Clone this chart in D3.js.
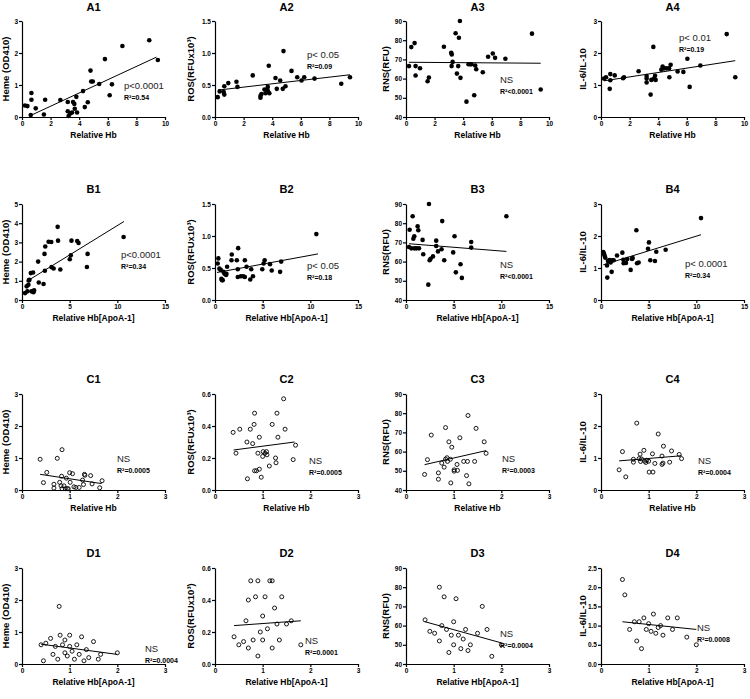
<!DOCTYPE html>
<html>
<head>
<meta charset="utf-8">
<script src="https://cdn.jsdelivr.net/npm/d3@7"></script>
<style>
  body { margin: 0; background: #fff; }
  svg { font-family: "Liberation Sans", Arial, sans-serif; }
  .axis path, .axis line { stroke: #000; stroke-width: 1.2; }
  .axis text { font-size: 6.5px; font-weight: bold; fill: #000; }
  .title { font-size: 11px; font-weight: bold; }
  .x-label { font-size: 8.5px; font-weight: bold; }
  .y-label { font-size: 9.5px; font-weight: bold; }
  .stat { font-size: 9.5px; fill: #222; }
  .r2 { font-size: 7px; font-weight: bold; }
</style>
</head>
<body>
<div id="chart"></div>
<script>
// Tick values
const xTicksA = [0, 2, 4, 6, 8, 10];
const xTicksB = [0, 5, 10, 15];
const xTicksCD = [0, 1, 2, 3];
const yTicksHeme3 = [0, 1, 2, 3];
const yTicksHeme5 = [0, 1, 2, 3, 4, 5];
const yTicksRos15 = [0, 0.5, 1.0, 1.5];
const yTicksRos06 = [0, 0.2, 0.4, 0.6];
const yTicksRns = [40, 50, 60, 70, 80, 90];
const yTicksIl3 = [0, 1, 2, 3];
const yTicksIl25 = [0, 0.5, 1.0, 1.5, 2.0, 2.5];

// Points [x, y]
const ptsA1 = [[0.21,0.36],[0.38,0.34],[0.66,0.75],[0.66,0.54],[0.61,0.06],[0.96,0.27],[1.53,0.08],[1.62,0.54],[2.68,0.53],[3.2,0.47],[3.2,0.18],[3.26,0.03],[3.38,0.11],[3.5,0.14],[3.57,0.47],[3.66,0.41],[3.69,0.26],[3.8,0.63],[3.85,0.14],[4.27,0.81],[4.39,0.31],[4.6,0.46],[4.79,1.45],[4.84,1.11],[4.95,1.11],[5.4,1.03],[5.8,1.81],[6.13,0.68],[6.29,1.02],[7.02,2.22],[8.9,2.4],[9.5,1.78]];
const ptsA2 = [[0.19,0.31],[0.33,0.40],[0.61,0.39],[0.65,0.35],[0.65,0.48],[0.93,0.53],[1.5,0.55],[1.57,0.47],[2.64,0.65],[3.18,0.33],[3.18,0.30],[3.25,0.36],[3.46,0.43],[3.53,0.37],[3.64,0.43],[3.69,0.47],[3.71,0.40],[3.76,0.80],[3.8,0.37],[4.23,0.61],[4.32,0.44],[4.56,0.57],[4.74,0.44],[4.79,1.03],[4.93,0.48],[5.35,0.72],[5.75,0.62],[6.05,0.57],[6.24,0.62],[6.96,0.60],[8.83,0.52],[9.44,0.62]];
const ptsA3 = [[0.21,66.5],[0.37,76.4],[0.6,78.5],[0.67,66.5],[0.67,61.6],[0.98,65.4],[1.51,58.6],[1.6,60.6],[2.65,76.6],[3.16,73.4],[3.2,72.6],[3.26,68.7],[3.19,66.5],[3.47,83.6],[3.56,62.6],[3.65,66.5],[3.7,81.3],[3.77,90],[3.81,60.4],[4.23,48],[4.37,67.5],[4.49,67.5],[4.58,67.5],[4.77,51.3],[4.84,66.8],[4.91,64.9],[5.37,63.3],[5.74,71.4],[6.07,73.1],[6.23,70.8],[6.95,70.3],[8.81,83.4],[9.42,54.3]];
const ptsA4 = [[0.21,1.2],[0.35,1.24],[0.65,1.34],[0.65,1.15],[0.61,0.88],[0.96,1.3],[1.54,1.21],[1.61,1.24],[2.63,1.43],[3.19,1.28],[3.19,1.2],[3.19,1.08],[3.47,0.70],[3.52,1.16],[3.66,2.19],[3.71,1.2],[3.78,1.29],[3.82,1.16],[4.22,1.48],[4.31,1.58],[4.41,1.52],[4.59,1.52],[4.76,1.52],[4.78,1.24],[4.87,1.63],[5.36,1.42],[5.76,1.41],[6.04,1.82],[6.2,0.94],[6.95,1.61],[8.79,2.59],[9.39,1.24]];
const ptsB1 = [[0.32,0.36],[0.49,0.71],[0.56,0.45],[0.67,0.79],[0.71,1.02],[0.78,1.05],[0.92,1.40],[0.99,0.45],[1.16,1.43],[1.2,0.41],[1.27,0.5],[1.69,2.0],[1.76,0.91],[2.26,0.83],[2.36,2.4],[2.44,2.79],[2.4,1.52],[2.79,3.03],[3.07,3.02],[3.1,1.71],[3.32,1.64],[3.74,3.81],[3.78,3.09],[4.02,1.59],[5.01,2.12],[5.12,2.33],[5.19,3.09],[5.79,3.07],[5.93,2.97],[6.88,2.4],[6.81,1.72],[10.66,3.28]];
const ptsB2 = [[0.28,0.57],[0.35,0.65],[0.46,0.49],[0.6,0.47],[0.67,0.33],[0.74,0.31],[0.81,0.31],[0.88,0.44],[0.99,0.41],[1.16,0.39],[1.2,0.41],[1.27,0.52],[1.76,0.71],[1.73,0.62],[2.29,0.62],[2.43,0.81],[2.39,0.48],[2.39,0.36],[2.71,0.37],[2.96,0.37],[3.13,0.62],[3.13,0.36],[3.31,0.52],[3.7,0.32],[3.8,0.48],[3.98,0.37],[4.96,0.48],[5.1,0.57],[5.21,0.62],[5.77,0.56],[5.95,0.46],[6.83,0.44],[6.94,0.60],[10.63,1.03]];
const ptsB3 = [[0.38,76.6],[0.31,67.6],[0.56,66.9],[0.7,83.6],[0.77,71.9],[0.87,73.2],[0.87,66.9],[1.08,66.9],[1.22,78.4],[1.29,76.3],[1.36,66.9],[1.74,71.3],[1.81,63.8],[2.41,90],[2.34,48],[2.48,60.7],[2.58,61.5],[2.83,62.7],[3.17,70.9],[3.17,68.1],[3.35,65.3],[3.73,66.4],[3.8,81.1],[4.01,60.7],[4.95,64.8],[5.09,73.2],[5.23,54.4],[5.72,58.6],[5.86,51.5],[6.84,70.2],[6.84,67.3],[10.53,83.6]];
const ptsB4 = [[0.24,1.5],[0.31,1.45],[0.38,1.38],[0.45,1.32],[0.63,1.08],[0.66,0.70],[0.73,1.22],[0.84,1.23],[0.91,1.25],[1.01,1.17],[1.12,0.88],[1.19,1.24],[1.33,1.24],[1.68,1.39],[2.24,1.48],[2.34,1.26],[2.38,1.15],[2.62,1.16],[2.76,1.28],[3.11,0.94],[3.25,1.28],[3.32,1.31],[3.71,2.18],[3.78,1.15],[3.95,1.17],[4.93,1.6],[5.03,1.8],[5.17,1.24],[5.66,1.22],[5.8,1.51],[6.78,1.57],[10.49,2.56]];
const ptsC1 = [[0.38,0.96],[0.45,0.23],[0.52,0.55],[0.67,0.18],[0.67,0.06],[0.74,0.99],[0.79,0.24],[0.82,0.13],[0.83,0.43],[0.84,1.26],[0.84,0.04],[0.88,0.13],[0.91,0.04],[0.93,0.37],[0.95,0.04],[0.97,0.04],[1.0,0.54],[1.01,0.24],[1.06,0.51],[1.09,0.10],[1.13,0.08],[1.2,0.08],[1.27,0.31],[1.29,0.17],[1.31,0.49],[1.32,0.46],[1.44,0.45],[1.47,0.19],[1.63,0.07],[1.68,0.29]];
const ptsC2 = [[0.38,0.36],[0.44,0.23],[0.52,0.38],[0.67,0.30],[0.68,0.07],[0.74,0.38],[0.79,0.29],[0.82,0.41],[0.83,0.48],[0.83,0.12],[0.87,0.12],[0.9,0.23],[0.93,0.33],[0.93,0.13],[0.97,0.08],[1.0,0.21],[1.01,0.24],[1.05,0.23],[1.08,0.24],[1.09,0.22],[1.14,0.15],[1.2,0.41],[1.27,0.2],[1.28,0.17],[1.3,0.48],[1.32,0.33],[1.44,0.57],[1.47,0.38],[1.64,0.19],[1.69,0.28]];
const ptsC3 = [[0.39,48.1],[0.45,55.8],[0.53,68.6],[0.68,48.9],[0.68,45.6],[0.75,54.0],[0.8,51.9],[0.83,72.5],[0.83,56.1],[0.86,56.8],[0.87,54.9],[0.9,65.1],[0.93,56.0],[0.94,43.7],[0.96,62.3],[1.01,49.8],[1.01,50.5],[1.07,53.3],[1.08,50.2],[1.13,67.2],[1.21,54.9],[1.27,47.5],[1.29,54.9],[1.3,78.8],[1.32,43.2],[1.44,54.9],[1.47,72.1],[1.64,65.1],[1.68,59.1]];
const ptsC4 = [[0.38,0.63],[0.45,1.2],[0.52,0.41],[0.68,0.87],[0.68,0.96],[0.75,2.09],[0.8,0.98],[0.82,1.12],[0.83,0.89],[0.85,0.97],[0.9,1.24],[0.92,0.9],[0.94,0.86],[0.96,0.93],[1.0,0.9],[1.01,0.56],[1.08,1.13],[1.09,0.56],[1.13,0.83],[1.2,1.75],[1.28,0.8],[1.28,1.06],[1.31,1.37],[1.3,0.84],[1.44,0.87],[1.48,1.22],[1.64,1.11],[1.69,0.98]];
const ptsD1 = [[0.4,0.6],[0.45,0.1],[0.5,0.65],[0.6,0.8],[0.65,0.3],[0.7,0.55],[0.75,0.15],[0.78,1.8],[0.8,0.9],[0.85,0.6],[0.9,0.35],[0.9,0.75],[0.95,0.25],[1.0,0.55],[1.0,0.9],[1.05,0.4],[1.1,0.15],[1.15,0.6],[1.2,0.3],[1.25,0.85],[1.3,0.1],[1.35,0.45],[1.4,0.2],[1.5,0.7],[1.6,0.15],[1.65,0.3],[2.0,0.35]];
const ptsD2 = [[0.4,0.17],[0.5,0.12],[0.6,0.14],[0.65,0.27],[0.7,0.4],[0.7,0.1],[0.75,0.52],[0.8,0.15],[0.85,0.42],[0.9,0.52],[0.9,0.05],[0.95,0.2],[1.0,0.3],[1.0,0.15],[1.05,0.42],[1.1,0.22],[1.15,0.52],[1.2,0.52],[1.2,0.1],[1.25,0.35],[1.3,0.25],[1.35,0.15],[1.4,0.42],[1.5,0.25],[1.6,0.27],[1.8,0.12]];
const ptsD3 = [[0.4,63],[0.5,57],[0.6,56],[0.7,80],[0.7,52],[0.75,60],[0.8,75],[0.85,58],[0.9,46],[0.95,55],[1.0,50],[1.0,62],[1.05,74],[1.1,55],[1.15,48],[1.2,53],[1.25,58],[1.3,47],[1.35,50],[1.5,56],[1.6,70],[1.7,58],[1.8,44],[2.0,50]];
const ptsD4 = [[0.45,2.2],[0.5,1.8],[0.6,0.9],[0.7,1.1],[0.75,0.6],[0.8,1.1],[0.85,0.4],[0.9,1.2],[0.95,0.9],[1.0,1.05],[1.05,0.85],[1.1,1.3],[1.15,0.8],[1.2,0.95],[1.25,1.0],[1.3,0.75],[1.4,1.2],[1.5,0.9],[1.6,1.2],[1.8,0.7],[2.0,0.5]];

// Regression line end points [x, y]
const fitA1 = [[0.52,0.03],[9.4,1.87]];
const fitA2 = [[0.2,0.42],[9.44,0.66]];
const fitA3 = [[0.2,68.5],[9.42,68.0]];
const fitA4 = [[0.21,1.13],[9.39,1.76]];
const fitB1 = [[0.49,0.97],[10.7,4.09]];
const fitB2 = [[0.21,0.43],[10.8,0.72]];
const fitB3 = [[0.31,69.3],[10.53,65.3]];
const fitB4 = [[0.24,1.1],[10.49,2.04]];
const fitC1 = [[0.38,0.49],[1.67,0.2]];
const fitC2 = [[0.39,0.25],[1.67,0.30]];
const fitC3 = [[0.39,53.2],[1.68,60.5]];
const fitC4 = [[0.38,0.91],[1.69,1.07]];
const fitD1 = [[0.4,0.62],[2.0,0.3]];
const fitD2 = [[0.4,0.24],[1.8,0.27]];
const fitD3 = [[0.4,62],[2.0,51]];
const fitD4 = [[0.45,1.1],[2.0,0.9]];

// Statistics labels
const statText = ["p<0.0001","p< 0.05","NS","p< 0.01","p<0.0001","p< 0.05","NS","p< 0.0001","NS","NS","NS","NS","NS","NS","NS","NS"];
const r2Text = ["R²=0.54","R²=0.09","R²<0.0001","R²=0.19","R²=0.34","R²=0.18","R²<0.0001","R²=0.34","R²=0.0005","R²=0.0005","R²=0.0003","R²=0.0004","R²=0.0004","R²=0.0001","R²=0.0004","R²=0.0008"];

// Layout
const W = 143, H = 96;
const colLeft = [22, 215, 406, 601];
const rowTop = [21, 204, 394, 568];
const yLabelOffset = [-16, -24, -20, -18];

const yLabels = ["Heme (OD410)", "ROS(RFUx10³)", "RNS(RFU)", "IL-6/IL-10"];
const xLabels = ["Relative Hb", "Relative Hb[ApoA-1]", "Relative Hb", "Relative Hb[ApoA-1]"];
const rowNames = ["A", "B", "C", "D"];

const f0 = d3.format("d"), f1 = d3.format(".1f");

const panels = [
  {r:0,c:0, pts:ptsA1, fit:fitA1, xt:xTicksA, yt:yTicksHeme3, yf:f0, ann:[102,68]},
  {r:0,c:1, pts:ptsA2, fit:fitA2, xt:xTicksA, yt:yTicksRos15, yf:f1, ann:[92,37]},
  {r:0,c:2, pts:ptsA3, fit:fitA3, xt:xTicksA, yt:yTicksRns, yf:f0, ann:[94,62]},
  {r:0,c:3, pts:ptsA4, fit:fitA4, xt:xTicksA, yt:yTicksIl3, yf:f0, ann:[78,20]},
  {r:1,c:0, pts:ptsB1, fit:fitB1, xt:xTicksB, yt:yTicksHeme5, yf:f0, ann:[99,54]},
  {r:1,c:1, pts:ptsB2, fit:fitB2, xt:xTicksB, yt:yTicksRos15, yf:f1, ann:[92,65]},
  {r:1,c:2, pts:ptsB3, fit:fitB3, xt:xTicksB, yt:yTicksRns, yf:f0, ann:[94,64]},
  {r:1,c:3, pts:ptsB4, fit:fitB4, xt:xTicksB, yt:yTicksIl3, yf:f0, ann:[84,63]},
  {r:2,c:0, pts:ptsC1, fit:fitC1, xt:xTicksCD, yt:yTicksHeme3, yf:f0, ann:[95,68]},
  {r:2,c:1, pts:ptsC2, fit:fitC2, xt:xTicksCD, yt:yTicksRos06, yf:f1, ann:[94,70]},
  {r:2,c:2, pts:ptsC3, fit:fitC3, xt:xTicksCD, yt:yTicksRns, yf:f0, ann:[96,68]},
  {r:2,c:3, pts:ptsC4, fit:fitC4, xt:xTicksCD, yt:yTicksIl3, yf:f0, ann:[97,70]},
  {r:3,c:0, pts:ptsD1, fit:fitD1, xt:xTicksCD, yt:yTicksHeme3, yf:f0, ann:[123,84]},
  {r:3,c:1, pts:ptsD2, fit:fitD2, xt:xTicksCD, yt:yTicksRos06, yf:f1, ann:[90,76]},
  {r:3,c:2, pts:ptsD3, fit:fitD3, xt:xTicksCD, yt:yTicksRns, yf:f0, ann:[94,69]},
  {r:3,c:3, pts:ptsD4, fit:fitD4, xt:xTicksCD, yt:yTicksIl25, yf:f1, ann:[96,63]}
];

const svg = d3.select("#chart")
  .append("svg")
  .attr("width", 750)
  .attr("height", 699);

panels.forEach((p, i) => {
  const g = svg.append("g")
    .attr("transform", `translate(${colLeft[p.c]}, ${rowTop[p.r]})`);

  let x = d3.scaleLinear()
    .domain(d3.extent(p.xt))
    .range([0, W]);
  let y = d3.scaleLinear()
    .domain(d3.extent(p.yt))
    .range([H, 0]);

  // axes
  g.append("g")
    .attr("class", "axis")
    .attr("transform", `translate(0, ${H})`)
    .call(d3.axisBottom(x).tickValues(p.xt).tickFormat(f0).tickSize(3).tickSizeOuter(0).tickPadding(1.5));
  g.append("g")
    .attr("class", "axis")
    .call(d3.axisLeft(y).tickValues(p.yt).tickFormat(p.yf).tickSize(3).tickSizeOuter(0).tickPadding(1));

  // regression line
  g.append("path")
    .datum(p.fit)
    .attr("fill", "none")
    .attr("stroke", "#000")
    .attr("stroke-width", 1)
    .attr("d", d3.line().x(d => x(d[0])).y(d => y(d[1])));

  // points
  const open = p.r >= 2;
  g.selectAll("circle")
    .data(p.pts)
    .enter()
    .append("circle")
    .attr("cx", d => x(d[0]))
    .attr("cy", d => y(d[1]))
    .attr("r", open ? 2 : 2.3)
    .attr("fill", open ? "none" : "#000")
    .attr("stroke", "#000")
    .attr("stroke-width", open ? 0.9 : 0);

  // title
  g.append("text")
    .attr("class", "title")
    .attr("x", W / 2)
    .attr("y", p.r === 0 ? -10 : -11)
    .attr("text-anchor", "middle")
    .text(rowNames[p.r] + (p.c + 1));

  // x label
  g.append("text")
    .attr("class", "x-label")
    .attr("x", W / 2)
    .attr("y", H + 21)
    .attr("text-anchor", "middle")
    .text(xLabels[p.r]);

  // y label
  g.append("text")
    .attr("class", "y-label")
    .attr("transform", `translate(${yLabelOffset[p.c]}, ${H / 2}) rotate(-90)`)
    .attr("dy", "0.35em")
    .attr("text-anchor", "middle")
    .text(yLabels[p.c]);

  // stats
  g.append("text")
    .attr("class", "stat")
    .attr("x", p.ann[0])
    .attr("y", p.ann[1])
    .text(statText[i]);
  g.append("text")
    .attr("class", "r2")
    .attr("x", p.ann[0])
    .attr("y", p.ann[1] + 11)
    .text(r2Text[i]);
});
</script>
</body>
</html>
